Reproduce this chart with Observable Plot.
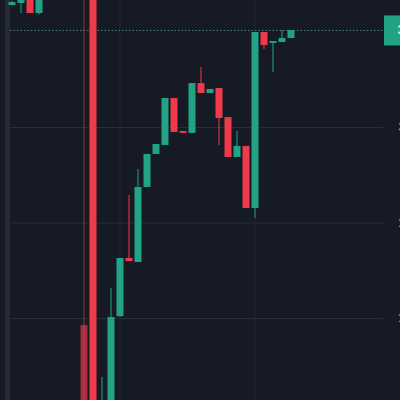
<!DOCTYPE html>
<html><head><meta charset="utf-8">
<script src="https://cdn.jsdelivr.net/npm/d3@7"></script>
<script src="https://cdn.jsdelivr.net/npm/@observablehq/plot@0.6"></script>
<style>
html,body{margin:0;padding:0;background:#161a25;overflow:hidden;width:400px;height:400px}
#chart svg{display:block;overflow:hidden}
</style></head><body><div id="chart"></div>
<script>
// candle index, OHLC prices
const open  = [3.639,3.649,3.75,3.597,3.75,3.86,3.92,3.88,1.963,3.80,1.30,1.50,2.010,2.314,2.293,2.686,2.859,2.906,3.152,2.979,2.969,3.230,3.178,3.204,3.052,2.843,2.901,2.576,3.497,3.440,3.445,3.466];
const high  = [3.660,3.72,3.78,3.78,3.90,3.95,3.96,3.91,3.80,3.85,1.691,2.157,2.314,2.644,2.780,2.859,2.911,3.152,3.152,2.979,3.230,3.314,3.199,3.204,3.052,2.979,2.901,3.497,3.497,3.450,3.508,3.508];
const low   = [3.635,3.597,3.597,3.59,3.72,3.82,3.85,3.76,1.40,1.38,1.25,1.48,2.005,2.298,2.293,2.686,2.859,2.906,2.974,2.969,2.969,3.178,3.178,2.906,2.843,2.843,2.576,2.524,3.408,3.288,3.445,3.466];
const close = [3.654,3.70,3.597,3.75,3.86,3.92,3.88,3.80,1.45,1.40,1.50,2.005,2.314,2.298,2.686,2.859,2.911,3.152,2.974,2.969,3.230,3.178,3.199,3.047,2.843,2.901,2.576,3.497,3.429,3.450,3.466,3.508];
const gridPrices = [2.0, 2.5, 3.0];
const timeGrid = [12, 27];
const faded = [8];

const GREEN = "#22a386", RED = "#ef3a4c";
const data = open.map((o, i) => ({i, o, h: high[i], l: low[i], c: close[i], up: close[i] >= o, faded: faded.includes(i)}));
const last = close[close.length - 1];
const col = d => d.up ? GREEN : RED;

const chart = Plot.plot({
  width: 400, height: 400,
  marginLeft: 7, marginRight: 17, marginTop: 0, marginBottom: 0,
  style: {background: "#161a25", fontFamily: "Roboto, sans-serif", fontSize: "12px"},
  color: {type: "identity"},
  x: {domain: [-0.5, 41.278], axis: null},
  y: {domain: [1.57068, 3.66492], axis: null},
  marks: [
    Plot.ruleY(gridPrices, {stroke: "#2a2e39", insetLeft: 3}),
    Plot.ruleX(timeGrid, {stroke: "#22262f"}),
    Plot.frame({anchor: "left", stroke: "#262a35", strokeWidth: 5}),
    Plot.ruleY([last], {stroke: "#4f8580", strokeDasharray: "1.5,2", insetLeft: 3}),
    Plot.ruleX(data, {x: "i", y1: "l", y2: "h", stroke: col, strokeOpacity: d => d.faded ? 0.6 : 1, clip: true}),
    Plot.ruleX(data, {x: "i", y1: "o", y2: "c", stroke: col, strokeOpacity: d => d.faded ? 0.65 : 1, strokeWidth: 7, clip: true}),
    Plot.axisY(gridPrices, {anchor: "right", tickSize: 0, tickPadding: 15, fill: "#b2b5be", label: null, tickFormat: d3.format(".2f")}),
    Plot.axisY([last], {anchor: "right", tickSize: 17, stroke: GREEN, strokeWidth: 30, label: null, tickFormat: () => ""}),
    Plot.axisY([last], {anchor: "right", tickSize: 0, tickPadding: 14, fill: "#ffffff", label: null, tickFormat: d3.format(".3f")})
  ]
});
document.getElementById("chart").append(chart);
</script></body></html>
